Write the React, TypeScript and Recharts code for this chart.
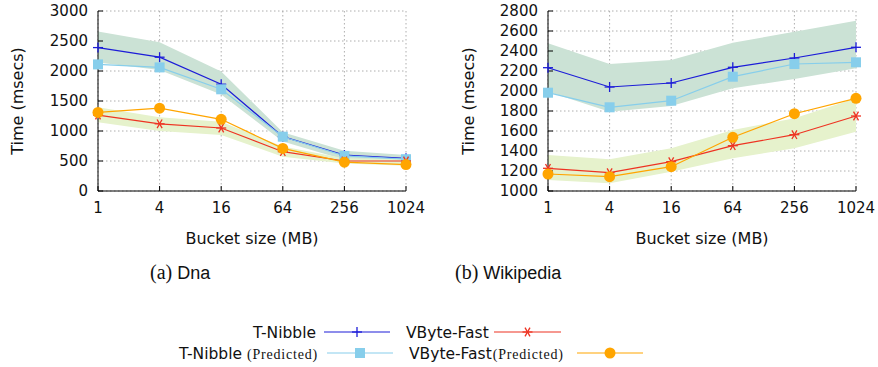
import React from 'react';
import { ComposedChart, Line, Area, XAxis, YAxis, CartesianGrid } from 'recharts';

const sizes = ['1', '4', '16', '64', '256', '1024'];

// Dna
const dnaTNibble = [2390, 2230, 1780, 905, 600, 545];
const dnaTNibbleLow = [2140, 2015, 1610, 825, 520, 465];
const dnaTNibbleHigh = [2660, 2480, 1990, 980, 670, 600];
const dnaTNibblePred = [2110, 2060, 1695, 905, 585, 530];
const dnaVByte = [1265, 1120, 1050, 655, 500, 500];
const dnaVByteLow = [1145, 1000, 935, 570, 460, 420];
const dnaVByteHigh = [1395, 1230, 1155, 740, 545, 530];
const dnaVBytePred = [1310, 1380, 1195, 710, 480, 440];

// Wikipedia
const wikiTNibble = [2233, 2040, 2080, 2237, 2330, 2437];
const wikiTNibbleLow = [1993, 1793, 1850, 2027, 2120, 2227];
const wikiTNibbleHigh = [2477, 2270, 2310, 2483, 2593, 2703];
const wikiTNibblePred = [1983, 1837, 1903, 2143, 2270, 2287];
const wikiVByte = [1227, 1183, 1293, 1453, 1563, 1750];
const wikiVByteLow = [1110, 1077, 1193, 1327, 1427, 1593];
const wikiVByteHigh = [1360, 1317, 1427, 1610, 1727, 1927];
const wikiVBytePred = [1170, 1143, 1243, 1537, 1773, 1927];

const dnaTicks = [0, 500, 1000, 1500, 2000, 2500, 3000];
const wikiTicks = [1000, 1200, 1400, 1600, 1800, 2000, 2200, 2400, 2600, 2800];

const BLUE = '#1c1cd8';
const SKY = '#87ceeb';
const RED = '#ee3322';
const ORANGE = '#ffa500';
const GREEN_BAND = '#cbe2d5';
const YELLOW_BAND = '#e6f2cc';
const FONT = 'DejaVu Sans, sans-serif';

const buildRows = (tn, tnLo, tnHi, tnP, vb, vbLo, vbHi, vbP) =>
  sizes.map((size, i) => ({
    size,
    tn: tn[i],
    tnBand: [tnLo[i], tnHi[i]],
    tnP: tnP[i],
    vb: vb[i],
    vbBand: [vbLo[i], vbHi[i]],
    vbP: vbP[i],
  }));

const dnaRows = buildRows(dnaTNibble, dnaTNibbleLow, dnaTNibbleHigh, dnaTNibblePred, dnaVByte, dnaVByteLow, dnaVByteHigh, dnaVBytePred);
const wikiRows = buildRows(wikiTNibble, wikiTNibbleLow, wikiTNibbleHigh, wikiTNibblePred, wikiVByte, wikiVByteLow, wikiVByteHigh, wikiVBytePred);

const PlusDot = ({ cx, cy }: any) => (
  <g stroke={BLUE} strokeWidth={1.3}>
    <line x1={cx - 5} y1={cy} x2={cx + 5} y2={cy} />
    <line x1={cx} y1={cy - 5} x2={cx} y2={cy + 5} />
  </g>
);
const SquareDot = ({ cx, cy }: any) => <rect x={cx - 5} y={cy - 5} width={10} height={10} fill={SKY} />;
const StarDot = ({ cx, cy }: any) => (
  <g stroke={RED} strokeWidth={1.3}>
    <line x1={cx - 5} y1={cy} x2={cx + 5} y2={cy} />
    <line x1={cx - 2.5} y1={cy - 4.3} x2={cx + 2.5} y2={cy + 4.3} />
    <line x1={cx - 2.5} y1={cy + 4.3} x2={cx + 2.5} y2={cy - 4.3} />
  </g>
);
const CircleDot = ({ cx, cy }: any) => <circle cx={cx} cy={cy} r={5.5} fill={ORANGE} />;

const Panel = ({ rows, ticks, yWidth, right, labelOffset }: any) => (
  <ComposedChart width={yWidth + 308 + right} height={250} data={rows} margin={{ top: 11, right, bottom: 0, left: 0 }}>
    <CartesianGrid stroke="#999" strokeDasharray="1.5 2.5" strokeWidth={0.8} />
    <XAxis
      dataKey="size"
      interval={0}
      height={59}
      tickSize={-5}
      tickMargin={16}
      stroke="#000"
      tick={{ fill: '#111', fontSize: 15, fontFamily: FONT }}
      label={{ value: 'Bucket size (MB)', position: 'insideBottom', offset: 6, fill: '#111', fontSize: 16, fontFamily: FONT }}
    />
    <YAxis
      type="number"
      domain={[ticks[0], ticks[ticks.length - 1]]}
      ticks={ticks}
      interval={0}
      width={yWidth}
      tickSize={-5}
      tickMargin={15}
      stroke="#000"
      tick={{ fill: '#111', fontSize: 15, fontFamily: FONT }}
      label={{ value: 'Time (msecs)', angle: -90, position: 'insideLeft', offset: labelOffset, fill: '#111', fontSize: 16, fontFamily: FONT, style: { textAnchor: 'middle' } }}
    />
    <Area dataKey="tnBand" type="linear" stroke="none" fill={GREEN_BAND} fillOpacity={1} isAnimationActive={false} activeDot={false} />
    <Area dataKey="vbBand" type="linear" stroke="none" fill={YELLOW_BAND} fillOpacity={1} isAnimationActive={false} activeDot={false} />
    <Line dataKey="tn" stroke={BLUE} strokeWidth={1.2} dot={<PlusDot />} activeDot={false} isAnimationActive={false} />
    <Line dataKey="tnP" stroke={SKY} strokeWidth={1.2} dot={<SquareDot />} activeDot={false} isAnimationActive={false} />
    <Line dataKey="vb" stroke={RED} strokeWidth={1.2} dot={<StarDot />} activeDot={false} isAnimationActive={false} />
    <Line dataKey="vbP" stroke={ORANGE} strokeWidth={1.2} dot={<CircleDot />} activeDot={false} isAnimationActive={false} />
  </ComposedChart>
);

const legendItems = [
  { name: 'T-Nibble', note: '', color: BLUE, Dot: PlusDot, textEnd: 316, x1: 324, x2: 390, y: 332 },
  { name: 'VByte-Fast', note: '', color: RED, Dot: StarDot, textStart: 406, x1: 494, x2: 561, y: 332 },
  { name: 'T-Nibble', note: '(Predicted)', color: SKY, Dot: SquareDot, textEnd: 318, x1: 327, x2: 393, y: 353 },
  { name: 'VByte-Fast', note: '(Predicted)', color: ORANGE, Dot: CircleDot, textStart: 409, x1: 577, x2: 643, y: 353 },
];

const Legend = () => (
  <svg width={878} height={367} style={{ position: 'absolute', left: 0, top: 0, pointerEvents: 'none' }}>
    {legendItems.map((it, i) => (
      <g key={i}>
        <text
          x={it.textEnd ?? it.textStart}
          y={it.y + 6}
          textAnchor={it.textEnd ? 'end' : 'start'}
          fontFamily={FONT}
          fontSize={15.5}
          fill="#111"
        >
          {it.name}
          {it.note && (
            <tspan fontFamily="Liberation Serif, serif" fontSize={14} letterSpacing={0.8} dx={it.textEnd ? 5 : 1}>
              {it.note}
            </tspan>
          )}
        </text>
        <line x1={it.x1} x2={it.x2} y1={it.y} y2={it.y} stroke={it.color} strokeWidth={1.2} />
        <it.Dot cx={(it.x1 + it.x2) / 2} cy={it.y} />
      </g>
    ))}
    <text x={150} y={279} fontSize={20} fill="#111">
      <tspan fontFamily="Liberation Serif, serif">(a)</tspan>
      <tspan fontFamily="Liberation Sans, sans-serif" fontSize={18} dx={5}>Dna</tspan>
    </text>
    <text x={455} y={279} fontSize={20} fill="#111">
      <tspan fontFamily="Liberation Serif, serif">(b)</tspan>
      <tspan fontFamily="Liberation Sans, sans-serif" fontSize={18} dx={5}>Wikipedia</tspan>
    </text>
  </svg>
);

export default function App() {
  return (
    <div style={{ position: 'absolute', left: 0, top: 0, width: 878, height: 367, background: '#fff' }}>
      <div style={{ position: 'absolute', left: 0, top: 0 }}>
        <Panel rows={dnaRows} ticks={dnaTicks} yWidth={98} right={34} labelOffset={17} />
      </div>
      <div style={{ position: 'absolute', left: 440, top: 0 }}>
        <Panel rows={wikiRows} ticks={wikiTicks} yWidth={108} right={22} labelOffset={28} />
      </div>
      <Legend />
    </div>
  );
}
